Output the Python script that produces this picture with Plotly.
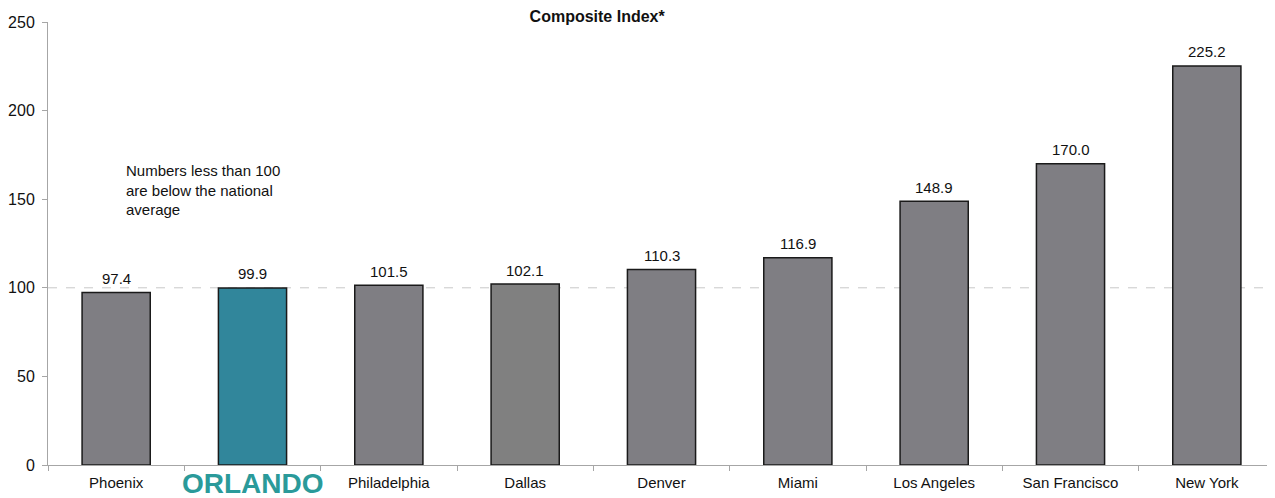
import plotly.graph_objects as go

cities = ["Phoenix", "Orlando", "Philadelphia", "Dallas", "Denver", "Miami",
          "Los Angeles", "San Francisco", "New York"]
index_values = [97.4, 99.9, 101.5, 102.1, 110.3, 116.9, 148.9, 170.0, 225.2]
national_avg = 100
y_ticks = [0, 50, 100, 150, 200, 250]

bar_colors = ["#7f7e83"] * len(cities)
bar_colors[cities.index("Orlando")] = "#31869b"
bar_colors[cities.index("Dallas")] = "#808080"

tick_text = ["" if c == "Orlando" else c for c in cities]

fig = go.Figure()
fig.add_trace(go.Bar(
    x=cities, y=index_values, width=0.5,
    marker=dict(color=bar_colors, line=dict(color="#1a1a1a", width=1.5)),
    cliponaxis=False,
))

# value labels sit a little higher above the bars than plotly's outside text
for city, v in zip(cities, index_values):
    fig.add_annotation(x=city, y=v, yref="y", yshift=14, yanchor="middle",
                       text=f"{v:.1f}", showarrow=False,
                       font=dict(size=15, color="#111"))

fig.add_hline(y=national_avg, line=dict(color="#c8c8c8", width=1, dash="dash"), layer="below")

fig.add_annotation(x="Orlando", y=0, yref="y", yshift=-18, yanchor="middle",
                   text="<b>ORLANDO</b>", showarrow=False,
                   font=dict(size=28, color="#2a9a9a", family="Liberation Sans"))
fig.add_annotation(x=0.062, xref="paper", y=155, yref="y", xanchor="left", yanchor="middle",
                   text="Numbers less than 100<br>are below the national<br>average",
                   align="left", showarrow=False, font=dict(size=15, color="#111"))

# page body adds an 8px offset, so the figure is sized to the visible window
fig.update_layout(
    width=1267, height=490,
    margin=dict(l=40, r=0, t=14, b=33),
    paper_bgcolor="white", plot_bgcolor="white",
    font=dict(family="Liberation Sans, Arial", size=14, color="#111"),
    title=dict(text="<b>Composite Index*</b>", x=0.465, xref="container", xanchor="center",
               y=0.995, yanchor="top", font=dict(size=16, color="#111")),
    showlegend=False,
    bargap=0.5,
    xaxis=dict(tickvals=cities, ticktext=tick_text, showline=True, linecolor="#a6a6a6",
               linewidth=1, ticks="outside", tickson="boundaries", ticklen=5, tickcolor="#a6a6a6",
               showgrid=False, automargin=False, tickfont=dict(size=15), ticklabelstandoff=4),
    yaxis=dict(range=[0, 250], tickvals=y_ticks, showline=True, linecolor="#a6a6a6",
               linewidth=1, ticks="outside", ticklen=5, tickcolor="#a6a6a6", showgrid=False,
               zeroline=False, tickfont=dict(size=16), automargin=False, ticklabelstandoff=4),
)

fig.write_html("out.html")
